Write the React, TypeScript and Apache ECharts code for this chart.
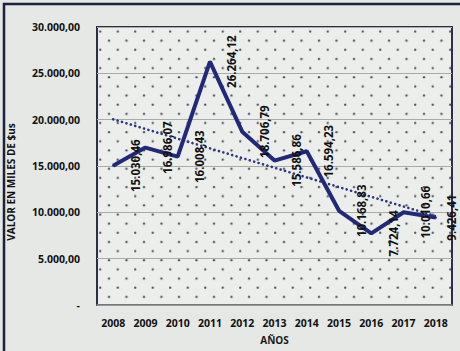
import React, { useEffect, useRef } from "react";
import * as echarts from "echarts";

const years = ["2008", "2009", "2010", "2011", "2012", "2013", "2014", "2015", "2016", "2017", "2018"];
const values = [15030.46, 16986.07, 16008.43, 26264.12, 18706.79, 15586.86, 16594.23, 10168.83, 7724.14, 10010.66, 9426.41];
// linear trend line: start (2008) and end (2018)
const trendStart = 20040;
const trendEnd = 9580;
const yTicks = { min: 0, max: 30000, interval: 5000 };

function fmt(v: number): string {
  const [i, d] = v.toFixed(2).split(".");
  return i.replace(/\B(?=(\d{3})+(?!\d))/g, ".") + "," + d;
}

const FONT = "'Open Sans', 'Noto Sans', sans-serif";

export default function App() {
  const ref = useRef<HTMLDivElement>(null);
  useEffect(() => {
    if (!ref.current) return;
    const chart = echarts.init(ref.current, undefined, { renderer: "svg" });
    const svg =
      "<svg xmlns='http://www.w3.org/2000/svg' width='17.5' height='18.3'>" +
      "<rect width='17.5' height='18.3' fill='#eceeec'/>" +
      "<circle cx='4' cy='4' r='1.15' fill='#4c515c'/>" +
      "<circle cx='12.75' cy='13.15' r='1.15' fill='#4c515c'/></svg>";
    const pattern = {
      image: "data:image/svg+xml;charset=utf-8," + encodeURIComponent(svg),
      repeat: "repeat",
      imageWidth: 17.5,
      imageHeight: 18.3,
    };
    const trendData: (number | null)[] = years.map((_, i) =>
      i === 0 ? trendStart : i === years.length - 1 ? trendEnd : null
    );
    const last = values.length - 1;
    const lineData = values.map((v, i) =>
      i === last ? { value: v, label: { offset: [0, 16] } } : v
    );
    chart.setOption({
      animation: false,
      backgroundColor: "#e5e8e5",
      textStyle: { fontFamily: FONT },
      grid: {
        left: 97,
        right: 8,
        top: 27,
        bottom: 46,
        show: true,
        backgroundColor: pattern,
        borderColor: "#2a2e48",
        borderWidth: 2,
      },
      xAxis: {
        type: "category",
        data: years,
        boundaryGap: true,
        name: "AÑOS",
        nameLocation: "middle",
        nameGap: 30,
        nameTextStyle: { fontFamily: FONT, fontWeight: 700, fontSize: 10, color: "#1a1a1a" },
        axisTick: { show: false },
        axisLine: { show: true, lineStyle: { color: "#8e9290", width: 1.5 } },
        axisLabel: {
          interval: 0,
          fontFamily: FONT,
          fontWeight: 700,
          fontSize: 10.5,
          color: "#111",
          margin: 12,
        },
      },
      yAxis: {
        type: "value",
        min: yTicks.min,
        max: yTicks.max,
        interval: yTicks.interval,
        axisLine: { show: false },
        axisTick: { show: false },
        splitLine: { show: true, lineStyle: { color: "#a9aba7", width: 1 } },
        axisLabel: {
          fontFamily: FONT,
          fontWeight: 700,
          fontSize: 10.5,
          color: "#111",
          margin: 17,
          formatter: (v: number) => (v === 0 ? "-" : fmt(v)),
        },
      },
      graphic: [
        {
          type: "rect",
          shape: { x: 4, y: 4, width: 480, height: 380 },
          style: { fill: "none", stroke: "#1c2140", lineWidth: 2.5 },
          silent: true,
        },
        {
          type: "text",
          x: 11,
          y: 182,
          rotation: Math.PI / 2,
          style: {
            text: "VALOR EN MILES DE $us",
            fontFamily: FONT,
            fontWeight: 700,
            fontSize: 10,
            fill: "#111",
            align: "center",
            verticalAlign: "middle",
          },
        },
      ],
      series: [
        {
          type: "line",
          data: trendData,
          connectNulls: true,
          symbol: "none",
          lineStyle: { color: "#2d3585", width: 2.6, type: [0.1, 4.5], cap: "round" },
          z: 2,
        },
        {
          type: "line",
          data: lineData,
          symbol: "circle",
          symbolSize: 2,
          itemStyle: { color: "#22287a" },
          lineStyle: { color: "#22287a", width: 4 },
          z: 3,
          label: {
            show: true,
            position: "inside",
            rotate: 90,
            align: "center",
            verticalAlign: "middle",
            offset: [0, 22],
            fontFamily: FONT,
            fontWeight: 700,
            fontSize: 11.5,
            color: "#111",
            formatter: (p: any) => fmt(p.value),
          },
        },
      ],
    });
    return () => chart.dispose();
  }, []);
  return (
    <div
      ref={ref}
      style={{ position: "fixed", left: 0, top: 0, width: 460, height: 351 }}
    />
  );
}
